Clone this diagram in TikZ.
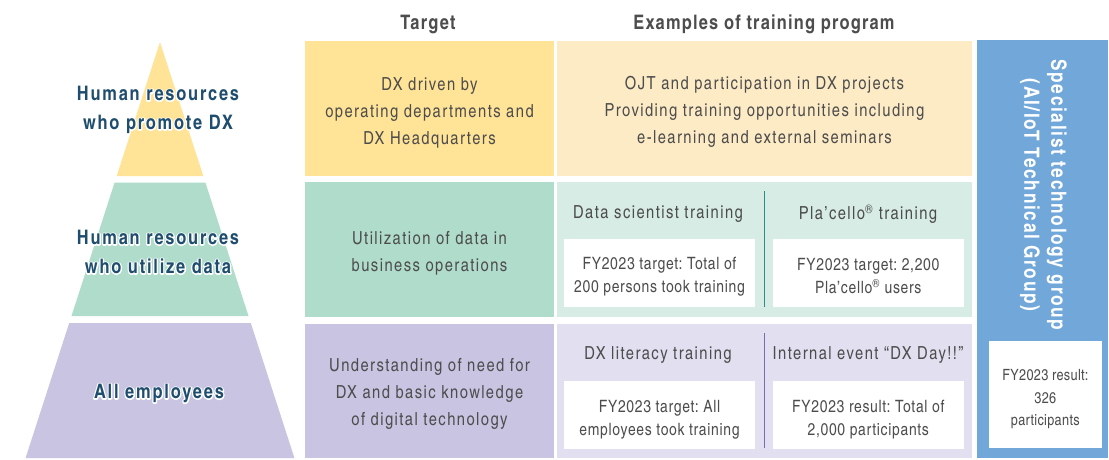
\documentclass[tikz,border=0pt]{standalone}
\usepackage{fontspec}
\setmainfont{texgyreheroscn}[Extension=.otf, UprightFont=*-regular, BoldFont=*-bold, ItalicFont=*-italic, BoldItalicFont=*-bolditalic]
\frenchspacing
\newcommand\halotext[1]{\leavevmode\rlap{\special{pdf:code q 1 Tr 2.6 w 1 1 1 RG 1 j 1 J}#1\special{pdf:code Q}}#1}
\newcommand\pyrfont{\bfseries\fontsize{20}{29}\selectfont\addfontfeatures{LetterSpace=9}\spaceskip=0.33em\relax}
\newcommand\bodyfont{\fontsize{18}{27}\selectfont\addfontfeatures{LetterSpace=8}\frenchspacing}
\newcommand\boxfont{\fontsize{17}{23}\selectfont\addfontfeatures{LetterSpace=4}\frenchspacing}
\newcommand\sboxfont{\fontsize{15.5}{22.5}\selectfont\addfontfeatures{LetterSpace=2}\frenchspacing}
\definecolor{yelA}{HTML}{FFE396}
\definecolor{yelB}{HTML}{FDEBC6}
\definecolor{grnA}{HTML}{B0DCCB}
\definecolor{grnB}{HTML}{D6ECE4}
\definecolor{purA}{HTML}{C8C4E2}
\definecolor{purB}{HTML}{E2DFF0}
\definecolor{blu}{HTML}{72A7D9}
\definecolor{txt}{HTML}{4D4D4D}
\definecolor{pyr}{HTML}{1E4D6E}
\definecolor{tealline}{HTML}{2A8F86}
\definecolor{purline}{HTML}{7A6DB8}
\tikzset{
  body/.style={text=txt, align=center, font=\bodyfont},
  boxtxt/.style={text=txt, align=center, font=\boxfont},
  head/.style={text=txt, font=\bfseries\fontsize{20}{23}\selectfont\addfontfeatures{LetterSpace=6}},
  pyrtxt/.style={text=pyr, align=center, font=\pyrfont},
}
\begin{document}
\begin{tikzpicture}[x=1pt,y=-1pt]
\useasboundingbox (0,0) rectangle (1109,459);
\fill[white] (0,0) rectangle (1109,459);
% pyramid
\fill[yelA] (160,42) -- (203.3,176) -- (116.7,176) -- cycle;
\fill[grnA] (114.6,182.5) -- (205.4,182.5) -- (248.5,316) -- (71.5,316) -- cycle;
\fill[purA] (69.2,323) -- (250.8,323) -- (294.4,458) -- (25.6,458) -- cycle;
\node[pyrtxt] (p1) at (158,110) {\halotext{Human resources}\\\halotext{who promote DX}};
\node[pyrtxt] (p2) at (158,252) {\halotext{Human resources}\\\halotext{who utilize data}};
\node[pyrtxt] (p3) at (159,393.5) {\halotext{All employees}};
% headers
\node[head] (h1) at (428,24) {Target};
\node[head] (h2) at (764,24) {Examples of training program};
% row 1
\fill[yelA] (305,41) rectangle (554,176);
\fill[yelB] (557,41) rectangle (972,176);
\node[body] (t1) at (429.5,112.5) {DX driven by\\operating departments and\\DX Headquarters};
\node[body] (e1) at (764.5,112) {OJT and participation in DX projects\\Providing training opportunities including\\e-learning and external seminars};
% row 2
\fill[grnA] (305,182) rectangle (554,317);
\fill[grnB] (557,182) rectangle (972,317);
\node[body] (t2) at (429.5,253.5) {Utilization of data in\\business operations};
\draw[tealline, line width=0.9pt] (764.3,191) -- (764.3,307);
\node[body] (d1) at (658,214) {Data scientist training};
\node[body] (d2) at (868,214) {Pla’cello\textsuperscript{®} training};
\fill[white] (564,239) rectangle (755,307);
\fill[white] (772.7,239) rectangle (964,307);
\node[boxtxt] (b1) at (659.5,276.5) {FY2023 target: Total of\\200 persons took training};
\node[boxtxt] (b2) at (868.3,276.5) {FY2023 target: 2,200\\Pla’cello\textsuperscript{®} users};
% row 3
\fill[purA] (305,324) rectangle (554,458);
\fill[purB] (557,324) rectangle (972,458);
\node[body] (t3) at (429.5,394) {Understanding of need for\\DX and basic knowledge\\of digital technology};
\draw[purline, line width=0.9pt] (764.3,333) -- (764.3,448);
\node[body] (d3) at (658,355) {DX literacy training};
\node[body] (d4) at (868,355) {Internal event “DX Day!!”};
\fill[white] (564,381) rectangle (755,448.5);
\fill[white] (772.7,381) rectangle (964,448.5);
\node[boxtxt] (b3) at (659.5,419.5) {FY2023 target: All\\employees took training};
\node[boxtxt] (b4) at (868.3,419.5) {FY2023 result: Total of\\2,000 participants};
% right column
\fill[blu] (977,40) rectangle (1108,458);
\node[rotate=-90, text=white, align=center, font=\bfseries\fontsize{21}{27}\selectfont\addfontfeatures{LetterSpace=8}] (sp) at (1043.5,195) {Specialist technology group\\(AI/IoT Technical Group)};
\fill[white] (989,341) rectangle (1101.7,448.3);
\node[text=txt, align=center, font=\sboxfont] (r1) at (1045.3,399.5) {FY2023 result:\\326\\participants};
\end{tikzpicture}
\end{document}
